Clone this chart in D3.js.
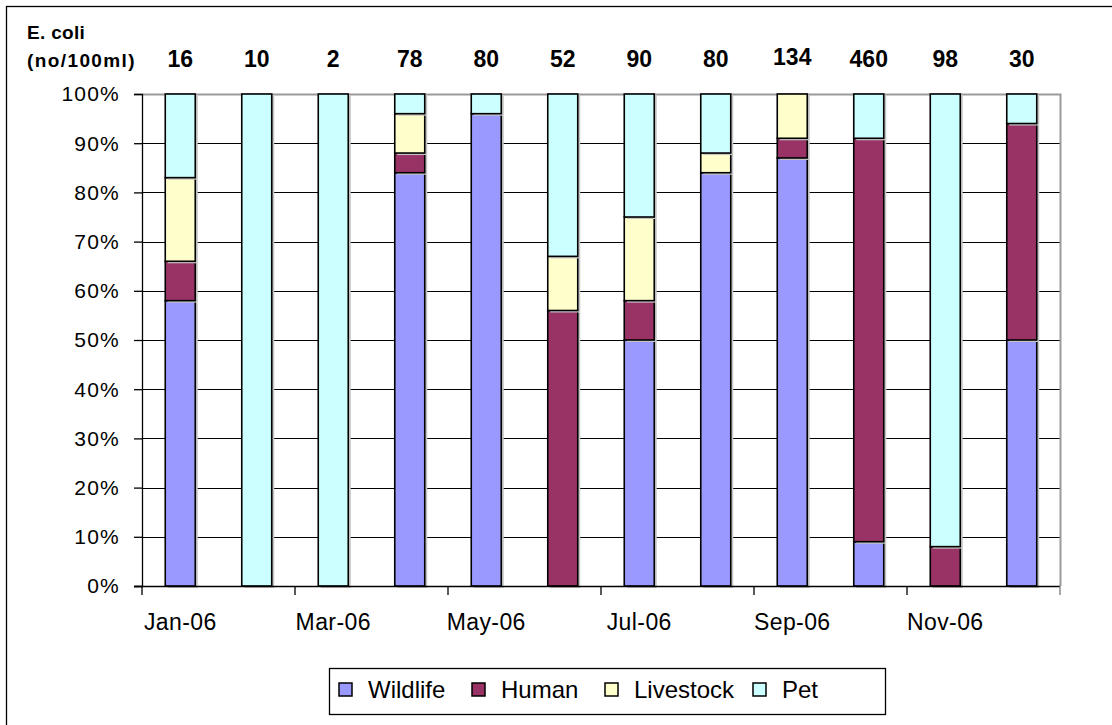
<!DOCTYPE html>
<html>
<head>
<meta charset="utf-8">
<script src="https://cdn.jsdelivr.net/npm/d3@7"></script>
<style>
  html, body { margin: 0; padding: 0; background: #fff; }
  svg { display: block; font-family: "Liberation Sans", Arial, sans-serif; }
</style>
</head>
<body>
<svg id="chart" width="1112" height="725"></svg>
<script>
// Months sampled
const months = ["Jan-06","Feb-06","Mar-06","Apr-06","May-06","Jun-06","Jul-06","Aug-06","Sep-06","Oct-06","Nov-06","Dec-06"];
// E. coli counts (no/100ml) shown above each bar
const ecoliCounts = [16, 10, 2, 78, 80, 52, 90, 80, 134, 460, 98, 30];
// Source shares (% of isolates) per month
const wildlife  = [58, 0, 0, 84, 96, 0, 50, 84, 87, 9, 0, 50];
const human     = [8, 0, 0, 4, 0, 56, 8, 0, 4, 82, 8, 44];
const livestock = [17, 0, 0, 8, 0, 11, 17, 4, 9, 0, 0, 0];
const pet       = [17, 100, 100, 4, 4, 33, 25, 12, 0, 9, 92, 6];
const sources = ["Wildlife", "Human", "Livestock", "Pet"];
const sourceColors = ["#9999FF", "#993366", "#FFFFCC", "#CCFFFF"];
const yTicks = [0, 10, 20, 30, 40, 50, 60, 70, 80, 90, 100];

const rows = months.map((m, i) => ({
  month: m,
  Wildlife: wildlife[i], Human: human[i], Livestock: livestock[i], Pet: pet[i]
}));

const svg = d3.select("#chart");
const plot = { left: 142, right: 1060, top: 94, bottom: 586 };

// Outer chart frame
svg.append("rect")
  .attr("x", 6.5).attr("y", 6.5).attr("width", 1200).attr("height", 800)
  .attr("fill", "none").attr("stroke", "#000").attr("stroke-width", 1.3);

const x = d3.scaleBand().domain(months)
  .range([plot.left, plot.right])
  .paddingInner(0.608).paddingOuter(0.304);
const y = d3.scaleLinear().domain([0, 100]).range([plot.bottom, plot.top]);
const color = d3.scaleOrdinal().domain(sources).range(sourceColors);

// Gridlines
svg.append("g").selectAll("line").data(yTicks.filter(t => t > 0 && t < 100)).join("line")
  .attr("x1", plot.left).attr("x2", plot.right)
  .attr("y1", d => Math.round(y(d)) + 0.5).attr("y2", d => Math.round(y(d)) + 0.5)
  .attr("stroke", "#000").attr("stroke-width", 1);

// Plot area border: top and right in grey
svg.append("path")
  .attr("d", `M${plot.left},${plot.top + 0.5}H${plot.right + 0.5}V${plot.bottom}`)
  .attr("fill", "none").attr("stroke", "#9a9a9a").attr("stroke-width", 2);

// Stacked bars
const stacked = d3.stack().keys(sources)(rows);
const layers = svg.append("g").selectAll("g").data(stacked).join("g");

// Soft shadow to the right of each segment
layers.selectAll("rect.shadow")
  .data(d => d.filter(s => s[1] - s[0] > 0))
  .join("rect").attr("class", "shadow")
  .attr("x", s => x(s.data.month) + 2.5)
  .attr("y", s => y(s[1]) + 2)
  .attr("width", x.bandwidth())
  .attr("height", s => y(s[0]) - y(s[1]))
  .attr("fill", "#c4c4c4");

layers.each(function(layer) {
  d3.select(this).selectAll("rect.seg")
    .data(layer.filter(s => s[1] - s[0] > 0))
    .join("rect").attr("class", "seg")
    .attr("x", s => x(s.data.month))
    .attr("y", s => y(s[1]))
    .attr("width", x.bandwidth())
    .attr("height", s => y(s[0]) - y(s[1]))
    .attr("fill", color(layer.key))
    .attr("stroke", "#000").attr("stroke-width", 1.6);
});

// Y axis
const yAxis = svg.append("g").attr("transform", `translate(${plot.left},0)`)
  .call(d3.axisLeft(y).tickValues(yTicks).tickSize(8).tickPadding(14).tickFormat(d => d + "%"));
yAxis.select(".domain").attr("stroke", "#000").attr("stroke-width", 1.3);
yAxis.selectAll(".tick line").attr("stroke", "#000").attr("stroke-width", 1.3);
yAxis.selectAll(".tick text")
  .attr("font-family", "Liberation Sans, Arial, sans-serif")
  .attr("font-size", 21).attr("letter-spacing", "1.2px").attr("fill", "#000")
  .attr("dy", "0.33em");

// X axis: baseline, ticks every two months at band boundaries
svg.append("line")
  .attr("x1", plot.left - 8).attr("x2", plot.right)
  .attr("y1", plot.bottom + 0.5).attr("y2", plot.bottom + 0.5)
  .attr("stroke", "#000").attr("stroke-width", 1.3);
const boundaries = d3.range(0, months.length + 1, 2).map(i => plot.left + i * x.step());
svg.append("g").selectAll("line").data(boundaries).join("line")
  .attr("x1", d => d).attr("x2", d => d)
  .attr("y1", plot.bottom).attr("y2", plot.bottom + 9)
  .attr("stroke", (d, i) => i === boundaries.length - 1 ? "#777" : "#000")
  .attr("stroke-width", 1.3);

svg.append("g").selectAll("text").data(months.filter((m, i) => i % 2 === 0)).join("text")
  .attr("x", d => x(d) + x.bandwidth() / 2)
  .attr("y", 630)
  .attr("text-anchor", "middle")
  .attr("font-size", 23).attr("letter-spacing", "0.4px")
  .text(d => d);

// E. coli counts above bars
svg.append("g").selectAll("text").data(months).join("text")
  .attr("x", d => x(d) + x.bandwidth() / 2)
  .attr("y", (d, i) => ecoliCounts[i] === 134 ? 65 : 67)
  .attr("text-anchor", "middle")
  .attr("font-size", 23).attr("font-weight", "bold")
  .text((d, i) => ecoliCounts[i]);

// Units heading
svg.append("text").attr("x", 27).attr("y", 39)
  .attr("font-size", 19).attr("font-weight", "bold").attr("letter-spacing", "0.3px")
  .text("E. coli");
svg.append("text").attr("x", 27).attr("y", 67)
  .attr("font-size", 19).attr("font-weight", "bold").attr("letter-spacing", "1.4px")
  .text("(no/100ml)");

// Legend
const legend = svg.append("g");
legend.append("rect")
  .attr("x", 329.5).attr("y", 668.5).attr("width", 556).attr("height", 46)
  .attr("fill", "#fff").attr("stroke", "#000").attr("stroke-width", 1.3);
const legendX = [339, 472, 605, 753];
const items = legend.selectAll("g").data(sources).join("g")
  .attr("transform", (d, i) => `translate(${legendX[i]},683)`);
items.append("rect")
  .attr("width", 13).attr("height", 13)
  .attr("fill", d => color(d)).attr("stroke", "#000").attr("stroke-width", 1.5);
items.append("text")
  .attr("x", 29).attr("y", 15)
  .attr("font-size", 24)
  .text(d => d);
</script>
</body>
</html>
